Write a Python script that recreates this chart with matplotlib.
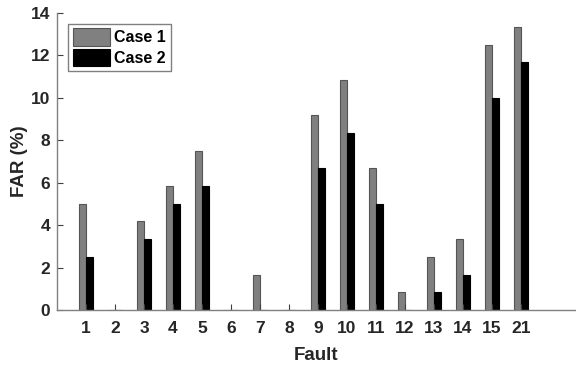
import matplotlib
matplotlib.use("Agg")
import matplotlib.pyplot as plt
import numpy as np

faults = ["1", "2", "3", "4", "5", "6", "7", "8", "9", "10", "11", "12", "13", "14", "15", "21"]
case1 = [5.0, 0, 4.17, 5.83, 7.5, 0, 1.67, 0, 9.17, 10.83, 6.67, 0.83, 2.5, 3.33, 12.5, 13.33]
case2 = [2.5, 0, 3.33, 5.0, 5.83, 0, 0, 0, 6.67, 8.33, 5.0, 0, 0.83, 1.67, 10.0, 11.67]

plt.rcParams['font.family'] = ['Liberation Sans', 'DejaVu Sans']
plt.rcParams['font.weight'] = 'bold'

fig = plt.figure(figsize=(5.76, 3.69), dpi=100)
ax = fig.add_axes([0.099, 0.16, 0.901, 0.805])

x = np.arange(1, len(faults) + 1)
w = 0.25
ax.bar(x - 0.13, case1, w, color='#808080', edgecolor='#555555', linewidth=0.8, label='Case 1')
ax.bar(x + 0.13, case2, w, color='#000000', edgecolor='#000000', linewidth=0.8, label='Case 2')

ax.set_xlim(0, 17.9)
ax.set_ylim(0, 14)
ax.set_yticks(range(0, 15, 2))
ax.set_xticks(x)
ax.set_xticklabels(faults)
for s in ['top', 'right']:
    ax.spines[s].set_visible(False)
for s in ['left', 'bottom']:
    ax.spines[s].set_color('#808080')
    ax.spines[s].set_linewidth(1.0)
ax.tick_params(direction='in', length=4, color='#404040', labelsize=12.5, width=0.8)
ax.tick_params(axis='x', pad=8)
ax.tick_params(axis='y', pad=5)
for lab in ax.get_xticklabels() + ax.get_yticklabels():
    lab.set_fontweight('bold')
    lab.set_color('#262626')

ax.set_xlabel('Fault', fontsize=13.5, fontweight='bold', color='#262626', labelpad=8)
ax.set_ylabel('FAR (%)', fontsize=13.5, fontweight='bold', color='#262626', labelpad=2)

leg = ax.legend(loc='upper left', bbox_to_anchor=(0.012, 0.98), fontsize=11.5, frameon=True,
                fancybox=False, edgecolor='#606060', handlelength=2.3, handleheight=1.3,
                borderpad=0.3, labelspacing=0.2, handletextpad=0.3, borderaxespad=0.3)
leg.get_frame().set_linewidth(1.0)
for t in leg.get_texts():
    t.set_fontweight('bold')

fig.savefig('out.png', dpi=100)
